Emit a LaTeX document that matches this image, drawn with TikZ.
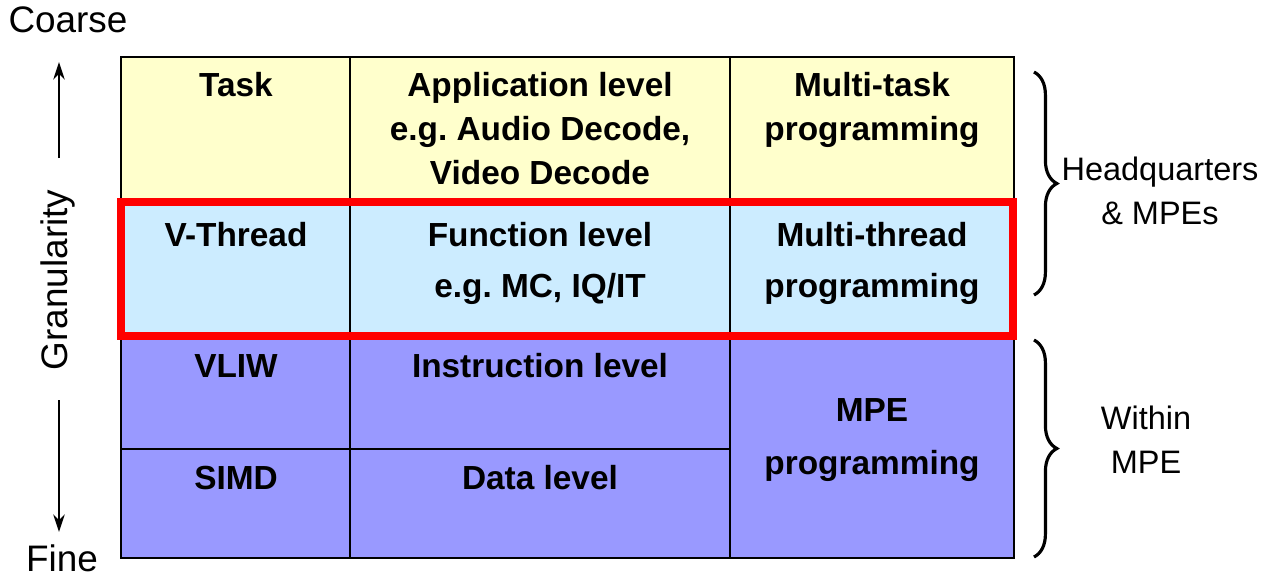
\documentclass[tikz,border=0pt]{standalone}
\usepackage{fontspec}
\setmainfont{Liberation Sans}
\frenchspacing
\usepackage{tikz}
\usetikzlibrary{
	arrows.meta,
	decorations.pathreplacing,
	% positioning,
}
\definecolor{taskyellow}{HTML}{FFFFCC}
\definecolor{threadblue}{HTML}{CCECFF}
\definecolor{mpepurple}{HTML}{9999FF}
\definecolor{hotred}{HTML}{FF0000}
\tikzstyle{arrow} = [line width=1.4pt,->,>={Stealth[length=10pt,width=6.5pt]}]
\tikzstyle{cell} = [font=\fontsize{19}{25}\selectfont\bfseries, align=center]
\tikzstyle{side} = [font=\fontsize{18.5}{25}\selectfont, align=center]
\tikzstyle{axis} = [font=\fontsize{21}{25}\selectfont]
\tikzstyle{curly} = [line width=1.8pt, decorate, decoration={brace, amplitude=13pt}]

\begin{document}
\begin{tikzpicture}[x=0.02cm, y=-0.02cm]
	\useasboundingbox (0, 0) rectangle (1269, 579);

	% rows
	\fill[taskyellow] (121, 57) rectangle (1014, 200);
	\fill[threadblue] (121, 200) rectangle (1014, 335);
	\fill[mpepurple] (121, 335) rectangle (1014, 558);

	% grid
	\draw[line width=0.8pt] (350, 57) -- (350, 558);
	\draw[line width=0.8pt] (730, 57) -- (730, 558);
	\draw[line width=0.8pt] (121, 449) -- (730, 449);
	\draw[line width=1.6pt] (121, 57) rectangle (1014, 558);

	% highlighted row
	\draw[hotred, line width=4pt] (121, 202) rectangle (1013, 336);

	% cell texts
	\node[cell] (task) at (236, 85) {Task};
	\node[cell, anchor=north] (applevel) at (540, 66) {Application level\\e.g. Audio Decode,\\Video Decode};
	\node[cell, anchor=north] (multitask) at (872, 66) {Multi-task\\programming};

	\node[cell] (vthread) at (236, 235) {V-Thread};
	\node[cell, anchor=north] (funclevel) at (540, 216) {Function level\\[4pt]e.g. MC, IQ/IT};
	\node[cell, anchor=north] (multithread) at (872, 216) {Multi-thread\\[4pt]programming};

	\node[cell] (vliw) at (236, 366) {VLIW};
	\node[cell] (instrlevel) at (540, 366) {Instruction level};
	\node[cell] (simd) at (236, 478) {SIMD};
	\node[cell] (datalevel) at (540, 478) {Data level};
	\node[cell] (mpeprog) at (872, 440) {MPE\\[5pt]programming};

	% granularity axis
	\node[axis] (coarse) at (68, 20) {Coarse};
	\node[axis] (fine) at (62, 558) {Fine};
	\node[axis, rotate=90] (gran) at (58, 280) {Granularity};
	\coordinate (upstart) at (59, 158);
	\coordinate (downstart) at (59, 400);
	\coordinate (uptip) at (59, 62);
	\coordinate (downtip) at (59, 532);
	\draw[arrow] (upstart) -- (uptip);
	\draw[arrow] (downstart) -- (downtip);

	% braces
	\coordinate (hqtop) at (1034, 72);
	\coordinate (hqbot) at (1034, 295);
	\coordinate (mpetop) at (1034, 340);
	\coordinate (mpebot) at (1034, 557);
	\draw[curly] (hqtop) -- (hqbot);
	\draw[curly] (mpetop) -- (mpebot);

	% labels
	\node[side] (hq) at (1160, 191) {Headquarters\\\& MPEs};
	\node[side] (within) at (1146, 440) {Within\\MPE};

\end{tikzpicture}
\end{document}
